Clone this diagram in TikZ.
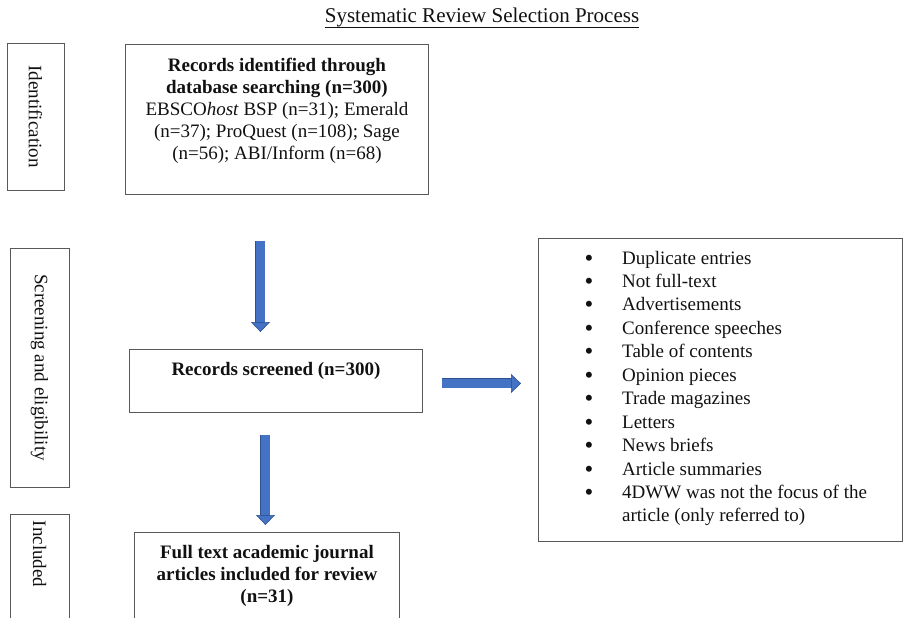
\documentclass[tikz,border=0pt]{standalone}
\usepackage{fontspec}
\setmainfont{Liberation Serif}
\usetikzlibrary{arrows.meta,positioning}
\definecolor{ink}{HTML}{111111}
\definecolor{frame}{HTML}{595959}
\definecolor{flowblue}{HTML}{4472C4}
\definecolor{flowedge}{HTML}{2F528F}

\begin{document}
\begin{tikzpicture}[x=1pt,y=-1pt,
  box/.style={draw=frame, line width=0.9pt, inner sep=0pt, anchor=north west},
  body/.style={font=\fontsize{19pt}{22pt}\selectfont, text=ink, inner sep=0pt, align=center},
  side/.style={draw=frame, line width=0.9pt, rotate=-90, font=\fontsize{19pt}{22pt}\selectfont, text=ink, inner sep=0pt},
  flow/.style={draw=flowblue, line width=8.5pt,
    -{Triangle[width=19pt,length=10pt,line width=0.6pt,color=flowedge,fill=flowblue]},
    preaction={draw=flowedge, line width=10pt, -, shorten >=9pt}}]
  \useasboundingbox (0,0) rectangle (903,618);
  \clip (0,0) rectangle (903,618);

  % title
  \node[body, font=\fontsize{21pt}{24pt}\selectfont, anchor=base] (title) at (482,23) {Systematic Review Selection Process};
  \draw[ink, line width=0.8pt] ([yshift=-4pt]title.base west) -- ([yshift=-4pt]title.base east);

  % stages on the left
  \node[side, minimum width=147pt, minimum height=57pt] (stage-id) at (35.5,116.5) {Identification};
  \node[side, minimum width=239pt, minimum height=59pt] (stage-screen) at (39.5,367.5) {Screening and eligibility};
  \node[side, minimum width=130pt, minimum height=59pt] (stage-incl) at (39.5,579) {};
  \node[body, rotate=-90] (stage-incl-text) at (39.5,554) {Included};

  % flow boxes
  \node[box, minimum width=303pt, minimum height=150pt] (ident) at (125,44) {};
  \node[body, below=14pt of ident.north] (ident-text) {\textbf{Records identified through}\\
    \textbf{database searching (n=300)}\\
    EBSCO\textit{host} BSP (n=31); Emerald\\
    (n=37); ProQuest (n=108); Sage\\
    (n=56); ABI/Inform (n=68)};
  \node[box, minimum width=293pt, minimum height=63pt] (screen) at (129,349) {};
  \node[body, below=13pt of screen.north] (screen-text) {\textbf{Records screened (n=300)}};
  \node[box, minimum width=265pt, minimum height=110pt] (incl) at (134,532) {};
  \node[body, below=13pt of incl.north] (incl-text) {\textbf{Full text academic journal}\\
    \textbf{articles included for review}\\
    \textbf{(n=31)}};
  \node[box, minimum width=364pt, minimum height=303pt] (excl) at (538,238) {};

  % exclusion reasons
  \foreach \i/\t in {0/Duplicate entries, 1/Not full-text, 2/Advertisements,
     3/Conference speeches, 4/Table of contents, 5/Opinion pieces,
     6/Trade magazines, 7/Letters, 8/News briefs, 9/Article summaries,
     10/4DWW was not the focus of the}
  {
    \node[body, font=\fontsize{25pt}{22pt}\selectfont, anchor=base, text height=6pt, text depth=0pt] (dot-\i) at (589, 266+\i*23.45) {\textbullet};
    \node[body, anchor=base west] (reason-\i) at (622, 264+\i*23.45) {\t};
  }
  \node[body, anchor=base west] (reason-end) at (622, 264+11*23.45) {article (only referred to)};

  % arrows
  \draw[flow] ([xshift=-16.5pt,yshift=-46pt]ident.south) -- ([xshift=-15.5pt,yshift=17pt]screen.north);
  \draw[flow] ([xshift=-10.5pt,yshift=-22pt]screen.south) -- ([xshift=-1.5pt,yshift=7pt]incl.north);
  \draw[flow] ([xshift=19pt,yshift=-2.5pt]screen.east) -- ([xshift=-17pt,yshift=6.5pt]excl.west);
\end{tikzpicture}
\end{document}
